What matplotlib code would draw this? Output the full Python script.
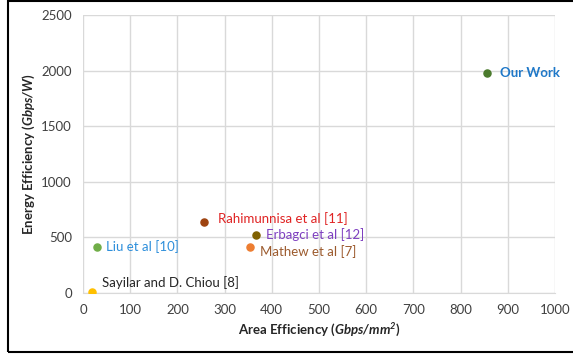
import matplotlib
matplotlib.use('Agg')
import matplotlib.pyplot as plt
from matplotlib.patches import Rectangle

plt.rcParams['font.family'] = ['Lato', 'DejaVu Sans']
plt.rcParams['mathtext.fontset'] = 'custom'
plt.rcParams['mathtext.rm'] = 'Lato'
plt.rcParams['mathtext.it'] = 'Lato:italic'
plt.rcParams['mathtext.bf'] = 'Lato:bold'
plt.rcParams['mathtext.bfit'] = 'Lato:bold:italic'

########### DATA

works = ['Our Work', 'Rahimunnisa et al [11]', 'Erbagci et al [12]',
         'Mathew et al [7]', 'Liu et al [10]', 'Sayilar and D. Chiou [8]']
area_eff = [856, 256, 367, 354, 30, 20]        # Gbps/mm^2
energy_eff = [1978, 638, 522, 416, 414, 12]    # Gbps/W

x_ticks = [0, 100, 200, 300, 400, 500, 600, 700, 800, 900, 1000]
y_ticks = [0, 500, 1000, 1500, 2000, 2500]

# styles
marker_colors = ['#4A7A2C', '#9E4310', '#7F6000', '#ED7D31', '#70AD47', '#FFC000']
label_colors = ['#1F78C8', '#E02424', '#7E40C0', '#9C5B2E', '#2E8FDB', '#262626']
label_offsets = [(13, 0), (14, 4), (10, 0), (10, -5), (9, 0), (10, 9)]
label_weights = ['bold', 'normal', 'normal', 'normal', 'normal', 'normal']

########### PLOT

fig = plt.figure(figsize=(5.73, 3.55), dpi=100)
ax = fig.add_axes([0.1449, 0.1746, 0.8237, 0.7831])

for i in range(len(works)):
    ax.scatter(area_eff[i], energy_eff[i], s=26, color=marker_colors[i], zorder=3)
    ax.annotate(works[i], (area_eff[i], energy_eff[i]), xytext=label_offsets[i],
                textcoords='offset pixels', va='center', ha='left',
                fontsize=9.5, color=label_colors[i], fontweight=label_weights[i])

ax.set_xlim(0, 1000)
ax.set_ylim(0, 2500)
ax.set_xticks(x_ticks)
ax.set_yticks(y_ticks)
ax.tick_params(length=0, labelsize=9.5, colors='#404040', pad=8)
ax.grid(True, color='#D9D9D9', linewidth=1)
ax.set_axisbelow(True)
for side in ['top', 'right', 'left']:
    ax.spines[side].set_visible(False)
ax.spines['bottom'].set_color('#D9D9D9')

ax.set_xlabel(r'Area Efficiency ($\mathbfit{Gbps/mm^2}$)', fontsize=9.5,
              fontweight='bold', color='#262626', labelpad=4)
ax.set_ylabel(r'Energy Efficiency ($\mathbfit{Gbps/W}$)', fontsize=9.5,
              fontweight='bold', color='#262626', labelpad=3)

# outer chart border (right side cut off in the original)
fig.patches.append(Rectangle((8 / 573, 3 / 355), 1.0, 351 / 355, transform=fig.transFigure,
                             fill=False, edgecolor='black', linewidth=1.5))

fig.savefig('out.png', dpi=100)
